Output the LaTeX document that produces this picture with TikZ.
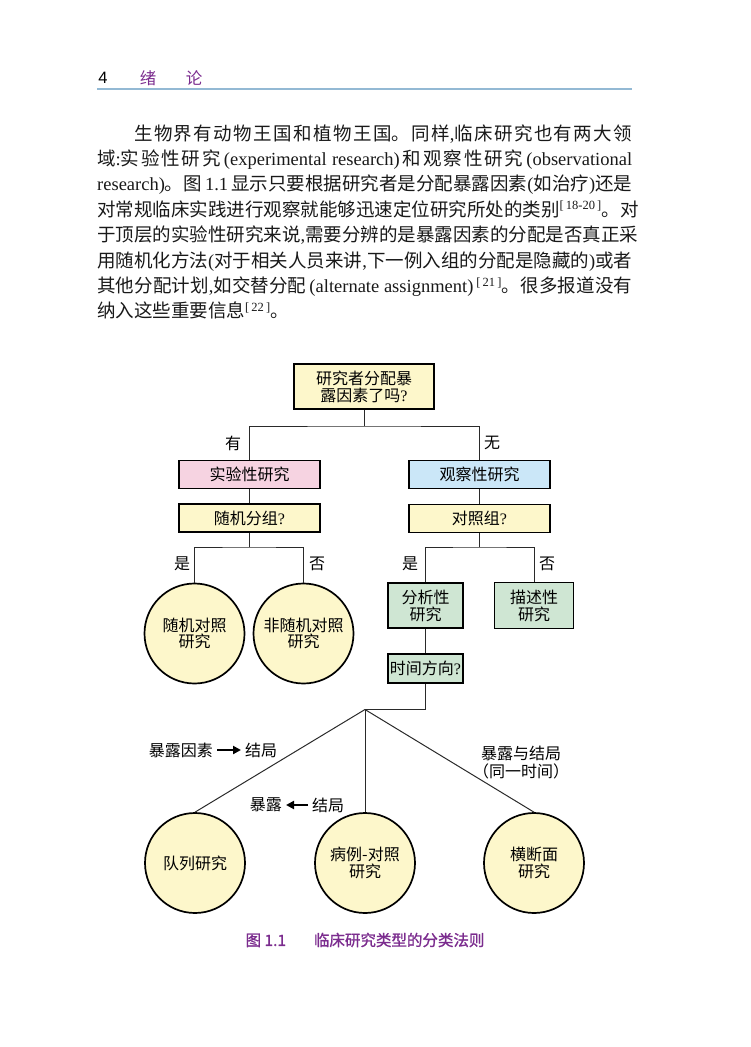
\documentclass[tikz,border=0pt]{standalone}
\usepackage{fontspec}
\setmainfont{Liberation Serif}
\newfontfamily\cjk{Noto Sans CJK SC}
\newfontfamily\cjkb[FakeBold=1.2]{Noto Sans CJK SC}
\newfontfamily\tnrfont{Liberation Serif}
\newfontfamily\hdsans{Liberation Sans}
\usetikzlibrary{arrows.meta}
\definecolor{cream}{HTML}{FDF7CB}
\definecolor{pinkf}{HTML}{F6D3E1}
\definecolor{bluef}{HTML}{CBE7F8}
\definecolor{greenf}{HTML}{CFE6D3}
\definecolor{purp}{HTML}{7B2C8E}
\definecolor{rulec}{HTML}{93B9D4}
\definecolor{linec}{HTML}{2A2A2A}
\newcommand\tnr[1]{{\tnrfont #1}}
\newcommand\supr[1]{\textsuperscript{\tnrfont\fontsize{12.5}{12.5}\selectfont #1}}
\newcommand\pline[2][535pt]{\parbox[b]{#1}{\XeTeXlinebreaklocale "zh"\XeTeXlinebreakskip=0pt plus 6pt\XeTeXlinebreakpenalty=10000 \parfillskip=0pt \tolerance=10000 \hbadness=10000 \noindent #2\par}}
\newcommand\plast[2][535pt]{\parbox[b]{#1}{\noindent #2\par}}
\tikzset{
  para/.style={anchor=base west, inner sep=0pt, text=black!90, font=\cjk\fontsize{18.5}{25}\selectfont},
  rbox/.style={draw=black, line width=1.9pt, inner sep=0pt, align=center, font=\cjk\fontsize{16}{17}\selectfont},
  circ/.style={circle, draw=black, line width=1.7pt, fill=cream, inner sep=0pt, minimum size=100pt, align=center, font=\cjk\fontsize{16}{16.5}\selectfont},
  lbl/.style={inner sep=0pt, font=\cjk\fontsize{16}{17}\selectfont},
  conn/.style={draw=linec, line width=1pt},
  arr/.style={draw=black, line width=2pt, -{Triangle[length=8pt,width=8pt]}}
}
\begin{document}
\begin{tikzpicture}[x=1pt,y=-1pt]
\useasboundingbox (0,0) rectangle (750,1047);
% header
\node[inner sep=0pt, font=\hdsans\fontsize{16.5}{16.5}\selectfont] (pg) at (103,78) {4};
\node[inner sep=0pt, text=purp, font=\cjk\fontsize{16.5}{16.5}\selectfont] (h1) at (148,78) {绪};
\node[inner sep=0pt, text=purp, font=\cjk\fontsize{16.5}{16.5}\selectfont] (h2) at (194,78) {论};
\draw[rulec, line width=1.2pt] (97,89) -- (632,89);
% paragraph
\node[para] (l1) at (97,140) {\pline{\hspace*{37pt}生物界有动物王国和植物王国。同样\tnr{,}临床研究也有两大领}};
\node[para] (l2) at (97,165.4) {\pline{域\tnr{:}实验性研究\tnr{\,(experimental research)\,}和观察性研究\tnr{\,(observational}}};
\node[para] (l3) at (97,190.8) {\pline{\tnr{research)}。图\tnr{ 1.1 }显示只要根据研究者是分配暴露因素\tnr{(}如治疗\tnr{)}还是}};
\node[para] (l4) at (97,216.2) {\pline{对常规临床实践进行观察就能够迅速定位研究所处的类别\supr{[\,18-20\,]}。对}};
\node[para] (l5) at (97,241.6) {\pline{于顶层的实验性研究来说\tnr{,}需要分辨的是暴露因素的分配是否真正采}};
\node[para] (l6) at (97,267) {\pline{用随机化方法\tnr{(}对于相关人员来讲\tnr{,}下一例入组的分配是隐藏的\tnr{)}或者}};
\node[para] (l7) at (97,292.4) {\pline{其他分配计划\tnr{,}如交替分配\tnr{\,(alternate assignment)\,}\supr{[\,21\,]}。很多报道没有}};
\node[para] (l8) at (97,317.8) {\plast{纳入这些重要信息\supr{[\,22\,]}。}};
% diagram boxes
\node[rbox, fill=cream, minimum width=140pt, minimum height=45pt] (q1) at (364,386.5) {研究者分配暴\\露因素了吗\tnr{?}};
\node[rbox, fill=pinkf, minimum width=141pt, minimum height=28pt] (exp) at (249.5,474.5) {实验性研究};
\node[rbox, fill=bluef, minimum width=141pt, minimum height=28pt] (obs) at (479.5,474.5) {观察性研究};
\node[rbox, fill=cream, minimum width=141pt, minimum height=28pt] (rnd) at (249.5,518) {随机分组\tnr{?}};
\node[rbox, fill=cream, minimum width=141pt, minimum height=28pt] (ctl) at (479.5,518.5) {对照组\tnr{?}};
\node[circ] (c1) at (194.5,633.5) {随机对照\\研究};
\node[circ] (c2) at (303.5,633.5) {非随机对照\\研究};
\node[rbox, fill=greenf, minimum width=75pt, minimum height=45pt] (ana) at (425.5,605.5) {分析性\\研究};
\node[rbox, fill=greenf, minimum width=79pt, minimum height=46pt] (dsc) at (534,605.5) {描述性\\研究};
\node[rbox, fill=greenf, minimum width=75pt, minimum height=29pt] (tim) at (425.5,668.5) {时间方向\tnr{?}};
\node[circ] (b1) at (195,863) {队列研究};
\node[circ] (b2) at (365,863) {病例-对照\\研究};
\node[circ] (b3) at (534,863) {横断面\\研究};
% junctions
\coordinate (j1) at (364,426);
\coordinate (j2) at (249.5,547);
\coordinate (j3) at (479.5,547);
\coordinate (apex) at (365,709.5);
% connectors
\draw[conn] (q1.south) -- (j1);
\draw[conn] (exp.north) |- (j1) -| (obs.north);
\draw[conn] (exp.south) -- (rnd.north);
\draw[conn] (obs.south) -- (ctl.north);
\draw[conn] (rnd.south) -- (j2);
\draw[conn] (c1.north) |- (j2) -| (c2.north);
\draw[conn] (ctl.south) -- (j3);
\draw[conn] (ana.north) |- (j3) -| (dsc.north);
\draw[conn] (ana.south) -- (tim.north);
\draw[conn] (tim.south) |- (apex);
\draw[conn] (apex) -- (b1.north);
\draw[conn] (apex) -- (b2.north);
\draw[conn] (apex) -- (b3.north);
% labels
\node[lbl] (you) at (233,443) {有};
\node[lbl] (wu) at (492,443) {无};
\node[lbl] (s1) at (182,564) {是};
\node[lbl] (f1) at (317,564) {否};
\node[lbl] (s2) at (410,564) {是};
\node[lbl] (f2) at (547,564) {否};
\node[lbl, anchor=east] (e1) at (213,750) {暴露因素};
\node[lbl, anchor=west] (e2) at (245,750) {结局};
\draw[arr, shorten <=4pt, shorten >=4pt] (e1.east) -- (e2.west);
\node[lbl, anchor=east] (g1) at (282,805) {暴露};
\node[lbl, anchor=west] (g2) at (312,805) {结局};
\draw[arr, shorten <=4pt, shorten >=4pt] (g2.west) -- (g1.east);
\node[lbl] (t1) at (521,753) {暴露与结局};
\node[lbl] (t2) at (521,771) {（同一时间）};
% caption
\node[inner sep=0pt, text=purp, font=\cjkb\fontsize{15.5}{17}\selectfont] (cap) at (365,940) {图 1.1\hspace{1.8em}临床研究类型的分类法则};
\end{tikzpicture}
\end{document}
